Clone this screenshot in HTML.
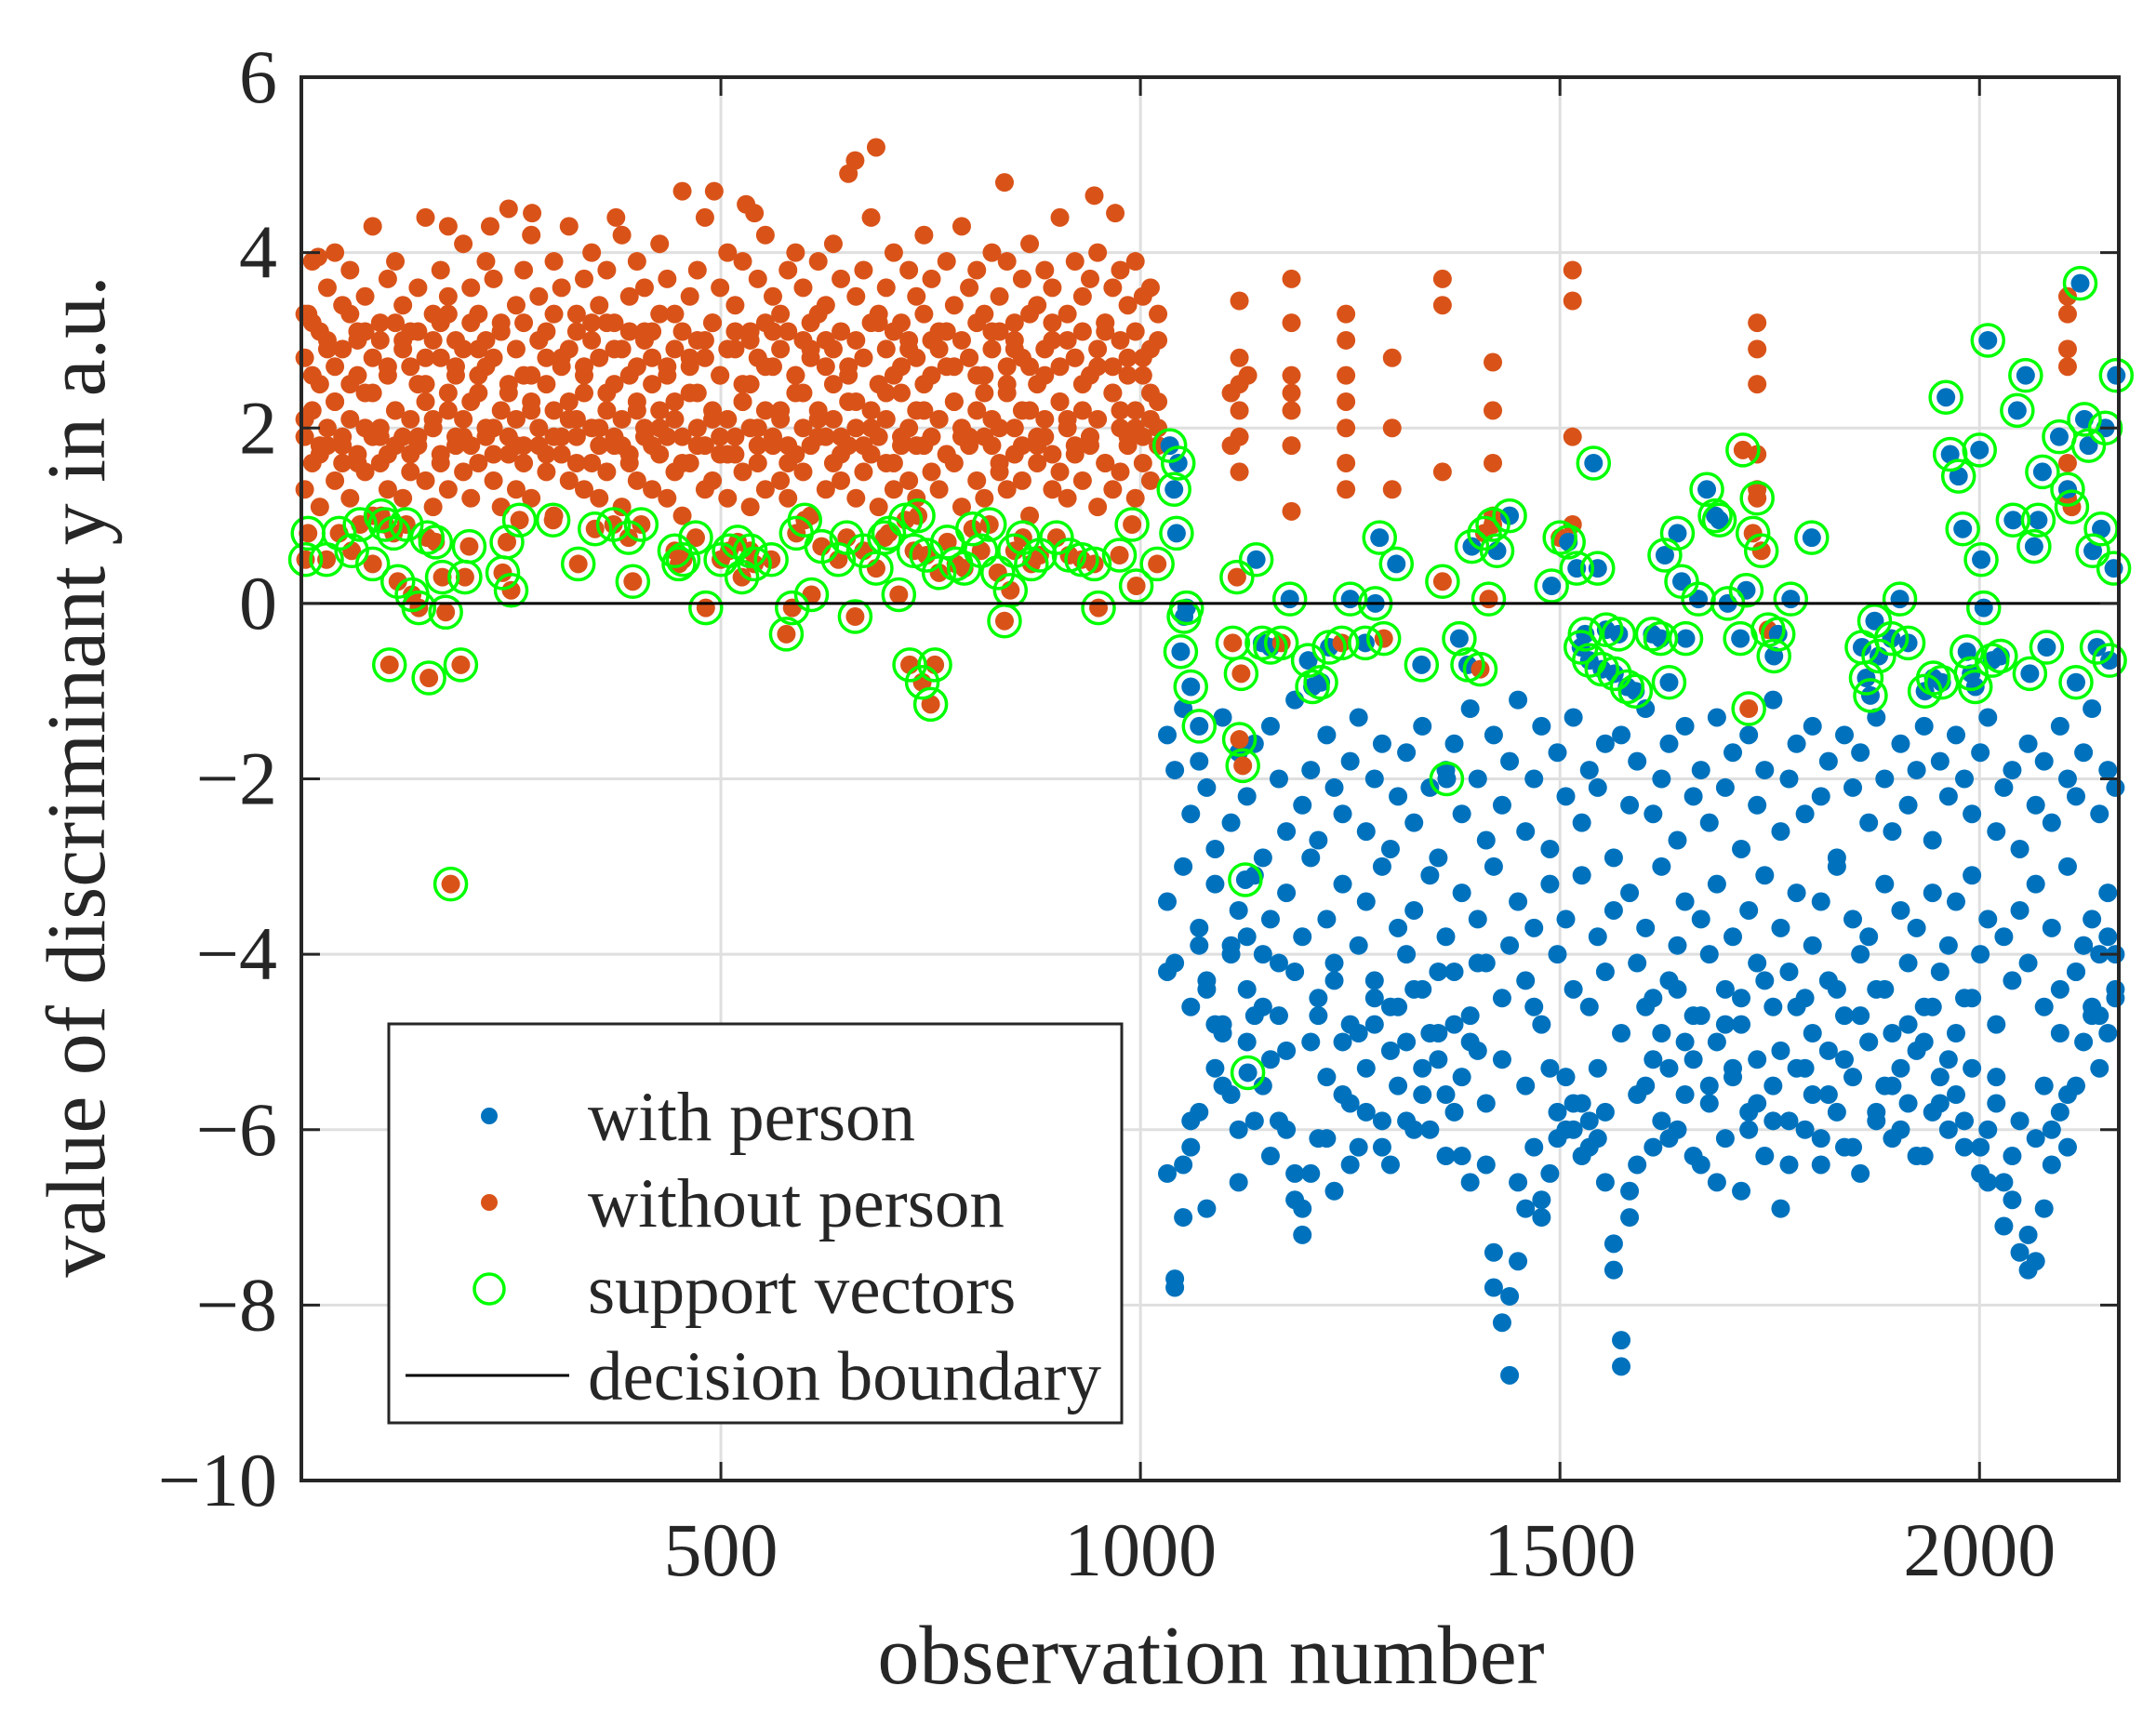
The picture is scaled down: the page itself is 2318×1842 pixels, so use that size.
<!DOCTYPE html>
<html><head><meta charset="utf-8"><style>
html,body{margin:0;padding:0;background:#fff;}
svg{display:block;}
text{font-family:"Liberation Serif",serif;fill:#262626;}
</style></head><body>
<svg id="chart" width="2318" height="1842" viewBox="0 0 2318 1842" xmlns="http://www.w3.org/2000/svg">
<rect width="2318" height="1842" fill="#fff"/>
<g id="grid"></g>
<g id="marks"></g>
<g id="axes"></g>
<text x="1302" y="1810" font-size="90" text-anchor="middle">observation number</text>
<text transform="translate(112,835) rotate(-90)" font-size="90" text-anchor="middle">value of discriminant y in a.u.</text>
<g>
<rect x="418" y="1101" width="788" height="429" fill="#fff" stroke="#262626" stroke-width="3"/>
<g><circle cx="526" cy="1200" r="9" fill="#0072BD"/><text x="632" y="1226" font-size="75">with person</text></g>
<g><circle cx="526" cy="1293" r="9" fill="#D95319"/><text x="632" y="1319" font-size="75">without person</text></g>
<g><circle cx="526" cy="1386" r="16" fill="none" stroke="#00FF00" stroke-width="3.5"/><text x="632" y="1412" font-size="75">support vectors</text></g>
<g><line x1="436" y1="1479" x2="612" y2="1479" stroke="#000" stroke-width="3"/><text x="632" y="1505" font-size="75">decision boundary</text></g>
</g>
</svg>
<script>
const xTicks=[500,1000,1500,2000];
const yTicks=[6,4,2,0,-2,-4,-6,-8,-10];
const oX=[4,13,22,31,40,49,58,67,76,85,94,103,112,121,130,139,148,157,166,175,184,193,202,211,220,229,238,247,256,265,274,283,292,301,310,319,328,337,346,355,364,373,382,391,400,409,418,427,436,445,454,463,472,481,490,499,508,517,526,535,544,553,562,571,580,589,598,607,616,625,634,643,652,661,670,679,688,697,706,715,724,733,742,751,760,769,778,787,796,805,814,823,832,841,850,859,868,877,886,895,904,913,922,931,940,949,958,967,976,985,994,1003,1012,1021];
const oYa=[2.1,2.6,1.8,2.9,2.3,1.6,2.5,3.1,2.0,2.4,1.9,2.7,2.2,3.0,1.7,2.5,2.8,2.1,3.2,2.4,2.6,1.9,2.3,2.9,2.7,2.0,3.1,2.4,1.8,2.6,2.2,3.0,2.5,1.9,2.8,2.3,2.1,2.7,3.2,2.0,2.4,2.9,1.8,2.6,2.2,3.1,2.5,2.0,2.7,2.3,1.9,2.8,2.4,3.0,2.1,2.6,1.7,2.9,2.3,2.5,2.0,2.7,3.1,2.2,1.8,2.6,2.4,2.9,2.1,3.0,2.5,1.9,2.7,2.3,2.8,2.0,3.2,2.4,2.6,1.8,2.9,2.2,2.5,3.0,2.1,2.7,2.3,1.9,2.8,2.6,2.4,3.1,2.0,2.5,2.9,2.2,2.7,1.8,2.6,3.0,2.3,2.1,2.8,2.5,1.9,2.7,3.1,2.4,2.2,2.6,2.0,2.8,2.4,2.3];
const oYb=[3.3,3.9,3.1,3.6,4.0,3.4,3.8,3.0,3.5,4.3,3.2,3.7,3.9,3.4,3.1,3.6,4.4,3.3,3.8,3.5,3.0,4.1,3.6,3.3,3.9,3.7,3.2,4.5,3.4,3.8,4.2,3.5,3.1,3.9,3.6,4.3,3.3,3.7,4.0,3.4,3.8,3.2,4.2,3.5,3.9,3.6,3.1,4.1,3.7,3.3,4.7,3.5,3.8,4.4,3.2,3.6,4.0,3.4,3.9,3.1,3.7,4.2,3.5,3.3,3.8,4.0,3.6,3.2,3.9,3.4,4.1,3.7,4.9,3.5,3.8,4.4,3.3,3.6,4.0,3.2,3.8,3.5,4.2,3.7,3.1,3.9,3.4,4.3,3.6,3.8,3.3,4.0,3.5,3.9,3.2,3.7,4.1,3.4,3.8,3.6,4.4,3.3,3.9,3.5,3.7,4.0,3.2,3.6,3.8,3.4,3.9,3.5,3.6,3.3];
const oYc=[1.3,1.6,1.1,1.8,1.4,1.9,1.2,1.7,1.5,1.0,1.6,1.3,1.8,1.2,1.5,1.9,1.4,1.1,1.7,1.3,1.8,1.5,1.2,1.6,1.9,1.4,1.1,1.7,1.3,1.6,1.2,1.8,1.5,1.0,1.7,1.4,1.9,1.3,1.6,1.2,1.5,1.8,1.1,1.6,1.4,1.9,1.3,1.7,1.2,1.5,1.0,1.6,1.8,1.3,1.4,1.7,1.2,1.9,1.5,1.1,1.6,1.3,1.8,1.4,1.2,1.7,1.5,1.0,1.9,1.3,1.6,1.4,1.8,1.2,1.5,1.7,1.1,1.6,1.3,1.9,1.4,1.2,1.8,1.5,1.3,1.7,1.6,1.1,1.9,1.4,1.2,1.8,1.5,1.3,1.7,1.4,1.0,1.6,1.9,1.3,1.5,1.2,1.7,1.4,1.8,1.1,1.6,1.3,1.5,1.9,1.2,1.6,1.4,1.8];
const oYd=[2.8,3.2,2.5,3.0,2.7,2.9,3.3,2.6,3.1,2.8,3.0,2.6,3.2,2.9,2.7,3.1,2.5,3.0,2.8,3.3,2.7,2.9,3.2,2.6,3.0,2.8,3.1,2.5,2.9,3.2,2.6,3.0,2.8,3.3,2.7,2.9,3.1,2.6,3.0,2.8,3.2,2.5,2.9,3.1,2.7,3.0,2.8,3.3,2.6,2.9,3.1,2.7,3.0,2.8,3.2,2.6,2.9,3.1,2.5,3.0,2.8,3.2,2.7,2.9,3.1,2.6,3.0,2.8,3.3,2.7,2.9,3.1,2.6,3.0,2.8,3.2,2.5,2.9,3.1,2.7,3.0,2.8,3.3,2.6,2.9,3.1,2.7,3.0,2.8,3.2,2.6,2.9,3.1,2.7,3.0,2.8,3.3,2.5,2.9,3.2,2.7,3.0,2.8,3.1,2.6,2.9,3.2,2.7,3.0,2.8,3.1,2.6,2.9,3.0];
const oYe=[1.9,2.2,1.7,2.0,2.3,1.8,2.1,1.6,2.4,1.9,2.0,1.7,2.2,1.9,2.1,1.8,2.3,2.0,1.6,2.2,1.9,2.1,1.8,2.4,2.0,1.7,2.2,1.9,2.1,1.8,2.3,2.0,1.7,2.2,1.9,2.1,1.6,2.4,2.0,1.8,2.2,1.9,2.1,1.7,2.3,2.0,1.8,2.2,1.9,2.1,1.6,2.4,2.0,1.8,2.2,1.9,2.1,1.7,2.3,2.0,1.8,2.2,1.9,2.1,1.6,2.4,2.0,1.8,2.2,1.9,2.1,1.7,2.3,2.0,1.8,2.2,1.9,2.1,1.6,2.4,2.0,1.8,2.2,1.9,2.1,1.7,2.3,2.0,1.8,2.2,1.9,2.1,1.6,2.4,2.0,1.8,2.2,1.9,2.1,1.7,2.3,2.0,1.8,2.2,1.9,2.1,1.6,2.4,2.0,1.8,2.2,1.9,2.1,2.0];
const oX2=[660,685,492,530,540,838,945,970,275,225,375,175,8,20,1108,1108,1118,1118,1118,1118,1118,1118,1128,1180,1180,1180,1180,1180,1180,1180,1245,1245,1245,1245,1245,1245,1245,1300,1300,1300,1360,1360,1360,1420,1420,1420,1420,1515,1515,1515,1515,1735,1735,1735,1735,1735,2105,2105,2105,2105,2105,2105,2105];
const oY2=[5.05,5.2,4.7,4.55,4.45,4.8,4.65,4.45,4.45,4.3,4.4,4.3,3.3,3.95,2.4,1.8,3.45,2.8,2.5,2.2,1.9,1.5,2.6,3.7,3.2,2.6,2.4,2.2,1.8,1.05,3.3,3.0,2.6,2.3,2.0,1.6,1.3,2.8,2.0,1.3,3.7,3.4,1.5,2.75,2.2,1.6,1.0,3.8,3.45,1.9,0.9,3.2,2.9,2.5,1.7,1.3,3.5,3.3,2.9,2.7,1.6,1.3,1.2];
const bX=[1032,1041,1051,1060,1070,1079,1089,1098,1108,1117,1127,1136,1146,1155,1165,1174,1184,1193,1203,1212,1222,1231,1241,1250,1260,1269,1279,1288,1298,1307,1317,1326,1336,1345,1355,1364,1374,1383,1393,1402,1412,1421,1431,1440,1450,1459,1469,1478,1488,1497,1507,1516,1526,1535,1545,1554,1564,1573,1583,1592,1602,1611,1621,1630,1640,1649,1659,1668,1678,1687,1697,1706,1716,1725,1735,1744,1754,1763,1773,1782,1792,1801,1811,1820,1830,1839,1849,1858,1868,1877,1887,1896,1906,1915,1925,1934,1944,1953,1963,1972,1982,1991,2001,2010,2020,2029,2039,2048,2058,2067,2077,2086,2096,2105,2115,2124,2134,2143,2153,2162];
const bYa=[-1.5,-1.9,-1.2,-2.4,-1.8,-2.1,-2.8,-1.3,-2.5,-1.7,-2.2,-1.6,-2.9,-1.4,-2.0,-2.6,-1.1,-2.3,-1.9,-2.7,-1.5,-2.1,-2.4,-1.8,-1.3,-2.6,-2.0,-1.6,-2.8,-2.2,-1.7,-2.5,-1.4,-2.1,-2.9,-1.9,-1.6,-2.4,-1.2,-2.0,-2.7,-1.5,-2.3,-1.8,-1.1,-2.6,-2.0,-1.4,-2.8,-1.7,-2.2,-1.3,-2.5,-1.9,-2.1,-1.6,-2.9,-1.5,-2.3,-1.8,-1.2,-2.4,-2.0,-1.6,-2.7,-1.4,-2.2,-1.9,-2.5,-1.3,-2.1,-1.7,-2.8,-1.5,-2.3,-1.9,-1.1,-2.6,-2.0,-1.6,-2.4,-1.4,-2.2,-1.8,-2.9,-1.5,-2.1,-1.7,-2.5,-1.3,-2.0,-2.6,-1.6,-2.3,-1.9,-1.4,-2.7,-1.8,-2.2,-1.5,-2.0,-2.4,-1.7,-1.3,-2.6,-2.1,-1.9,-2.8,-1.6,-2.3,-1.8,-2.5,-1.4,-2.0,-2.2,-1.7,-1.2,-2.4,-1.9,-2.1];
const bYb=[-3.4,-4.1,-3.0,-4.6,-3.7,-4.3,-3.2,-4.8,-3.9,-3.5,-4.4,-3.1,-4.0,-3.6,-4.7,-3.3,-4.2,-3.8,-2.9,-4.5,-3.6,-4.1,-3.2,-4.8,-3.9,-3.4,-4.3,-3.0,-4.6,-3.7,-4.0,-3.5,-4.4,-3.1,-4.9,-3.8,-4.2,-3.3,-4.7,-3.6,-4.1,-3.0,-4.5,-3.9,-3.4,-4.3,-3.7,-4.8,-3.2,-4.0,-3.6,-4.4,-3.1,-4.6,-3.8,-4.2,-3.5,-4.9,-3.3,-4.1,-3.7,-4.5,-3.0,-4.3,-3.9,-3.4,-4.7,-3.6,-4.0,-3.2,-4.4,-3.8,-4.8,-3.5,-4.1,-3.1,-4.6,-3.7,-4.2,-3.3,-4.5,-3.9,-3.4,-4.3,-3.0,-4.7,-3.6,-4.0,-3.8,-4.4,-3.2,-4.9,-3.5,-4.1,-3.7,-4.6,-3.3,-4.2,-3.9,-3.4,-4.5,-3.1,-4.0,-3.6,-4.8,-3.8,-4.3,-3.5,-4.1,-3.2,-4.6,-3.7,-4.4,-3.0,-4.2,-3.9,-3.6,-4.7,-3.3,-4.0];
const bYc=[-6.5,-7.7,-7.0,-6.2,-5.8,-6.9,-5.3,-4.9,-5.6,-6.0,-5.0,-4.7,-5.5,-6.3,-5.9,-5.1,-6.8,-7.2,-6.5,-6.1,-5.4,-6.7,-5.0,-5.7,-6.2,-5.3,-4.8,-5.9,-6.4,-5.5,-5.0,-6.0,-5.6,-4.9,-5.2,-6.3,-5.8,-5.4,-6.6,-5.1,-5.7,-7.8,-8.2,-8.8,-7.5,-6.9,-6.2,-7.0,-6.5,-5.8,-6.0,-5.7,-6.3,-5.9,-6.1,-6.6,-7.3,-8.7,-7.0,-6.4,-5.5,-6.2,-5.9,-5.3,-6.0,-5.6,-5.2,-6.4,-5.7,-5.0,-6.1,-5.4,-6.7,-5.8,-5.2,-6.3,-5.5,-6.9,-5.9,-5.3,-6.0,-5.6,-6.4,-5.1,-5.8,-6.2,-5.4,-6.5,-5.0,-5.9,-5.5,-6.1,-5.3,-5.7,-6.3,-5.0,-5.8,-5.4,-6.0,-5.6,-6.2,-5.3,-6.5,-6.0,-5.7,-6.6,-6.3,-7.4,-7.2,-7.5,-6.9,-6.4,-5.8,-6.2,-5.5,-5.0,-4.7,-5.3,-4.9,-4.5];
const bYd=[-4.2,-7.8,-6.4,-5.9,-3.9,-4.4,-4.8,-5.5,-4.0,-6.6,-3.8,-5.9,-4.6,-5.2,-4.1,-6.0,-6.5,-6.9,-5.0,-4.7,-6.1,-4.3,-5.6,-6.4,-4.9,-5.8,-4.5,-6.2,-5.1,-4.6,-5.9,-4.4,-5.3,-6.0,-4.2,-5.6,-4.8,-6.3,-5.0,-4.1,-6.4,-7.4,-5.2,-7.9,-6.6,-5.5,-4.6,-6.8,-5.3,-6.1,-5.4,-6.0,-5.7,-6.2,-5.3,-5.8,-7.6,-8.4,-6.7,-5.6,-4.6,-5.2,-4.9,-6.1,-4.4,-5.0,-6.3,-4.7,-5.5,-6.6,-4.8,-5.3,-4.5,-6.0,-5.7,-4.3,-5.9,-5.1,-6.4,-4.6,-5.3,-4.9,-6.1,-5.6,-4.4,-5.2,-6.2,-4.7,-5.0,-5.8,-4.4,-5.5,-6.0,-4.8,-5.1,-6.3,-4.6,-5.7,-5.2,-4.9,-5.9,-4.5,-6.2,-6.6,-5.4,-7.1,-6.8,-5.9,-7.6,-6.1,-5.5,-6.0,-4.9,-5.6,-4.2,-3.9,-4.6,-4.0,-3.8,-4.4];
const svX=[5,8,30,45,60,70,85,95,100,105,110,115,125,132,140,150,152,160,168,172,178,190,195,200,240,245,250,260,300,330,350,372,390,395,405,445,450,455,470,482,500,510,520,525,535,540,560,578,585,590,600,608,620,640,650,660,670,685,695,700,712,720,725,730,735,740,745,750,755,760,770,780,790,800,810,820,830,838,845,850,860,870,880,900,915,930,945,950,975,990,995,1020,
1035,1040,1043,1045,1048,1052,1055,1060,1070,1110,1115,1118,1120,1122,1125,1128,1138,1145,1155,1168,1178,1200,1205,1215,1225,1240,1250,1268,1280,1285,1290,1305,1335,1360,1365,1380,1390,1395,1405,1410,1415,1420,1425,1440,1490,1500,1510,1520,1525,1530,1535,1540,1545,1550,1555,1565,1570,1580,1590,1610,1620,1625,1630,1640,1645,1650,1665,1675,1685,1690,1700,1715,1718,1722,1725,1730,1735,1740,1748,1755,1760,1775,1800,1860,1865,1870,1875,1880,1895,1905,1915,1935,1945,1955,1960,1965,1975,1980,1985,1990,1995,2000,2002,2005,2010,2015,2025,2040,2045,2055,2060,2065,2070,2075,2080,2095,2105,2110,2115,2120,2125,2130,2135,2140,2145,2150,2155,2160,2163];
const svY=[0.5,0.8,0.5,0.8,0.6,0.9,0.45,1.0,0.9,-0.7,0.8,0.25,0.9,0.1,-0.05,0.75,-0.85,0.7,0.3,-0.1,-3.2,-0.7,0.3,0.65,0.35,0.7,0.15,0.95,0.95,0.45,0.85,0.9,0.75,0.25,0.9,0.6,0.45,0.5,0.75,-0.05,0.5,0.6,0.7,0.3,0.6,0.45,0.5,-0.35,-0.05,0.8,0.95,0.1,0.65,0.5,0.75,-0.15,0.6,0.4,0.75,0.8,0.1,0.95,-0.7,0.6,1.0,-0.9,0.55,-1.15,-0.7,0.35,0.7,0.45,0.4,0.85,0.6,0.9,0.35,-0.2,0.15,0.6,0.75,0.45,0.55,0.75,0.55,0.5,0.45,-0.05,0.55,0.9,0.2,0.45,
1.8,1.3,0.8,1.6,-0.55,-0.15,-0.05,-0.95,-1.4,-0.45,0.3,-1.55,-0.8,-1.85,-3.15,-5.35,0.5,-0.45,-0.5,-0.45,0.05,-0.65,-0.95,-0.9,-0.5,-0.45,0.05,-0.45,0.0,0.75,-0.4,0.45,-0.7,0.25,-2.0,-0.4,-0.7,0.65,-0.75,0.8,0.05,0.9,0.6,1.0,0.2,0.75,0.7,0.4,-0.5,-0.35,-0.65,1.6,0.4,-0.75,-0.3,-0.8,-0.35,-0.95,-1.0,-0.35,-0.4,0.55,-0.9,0.8,0.25,-0.4,0.05,1.3,1.0,0.95,0.0,-0.4,1.75,0.15,-1.2,0.8,1.2,0.6,-0.3,-0.6,-0.35,0.05,0.75,-0.5,-0.85,-1.05,-0.2,-0.6,-0.4,0.05,-0.45,-1.0,-0.85,-0.9,2.35,1.7,1.45,0.85,-0.55,-0.8,-0.95,1.75,0.5,-0.05,3.0,-0.65,-0.6,0.95,2.2,2.6,-0.8,0.65,0.95,1.5,-0.5,1.9,1.3,1.1,-0.9,3.65,2.1,1.8,0.6,-0.5,0.85,2.0,-0.65,0.4,2.6];
const svCls="oooooooooooooooooooooooooooooooooooooooooooooooooooooooooooooooooooooooooooooooooooooooooooo"+"bbbbbbbbbooooobbbbbobbbbbobbbbobbobbbboooobbbobbbbbbbbbbbbbbbbbbbbbbbbbbobooooobbbbbbbbbbbbbbbbbbbbbbbbbbbbbbbbbbbbbbobbbbbbbbbbbb";

const NS="http://www.w3.org/2000/svg";
const L=324,R=2278,T=83,B=1592,XMIN=0,XMAX=2166,YMIN=-10,YMAX=6;
function sx(v){return L+(v-XMIN)/(XMAX-XMIN)*(R-L);}
function sy(v){return B-(v-YMIN)/(YMAX-YMIN)*(B-T);}
function mk(tag,attrs,parent){const e=document.createElementNS(NS,tag);for(const k in attrs)e.setAttribute(k,attrs[k]);parent.appendChild(e);return e;}
const grid=document.getElementById('grid'),marks=document.getElementById('marks'),axes=document.getElementById('axes');
xTicks.forEach(t=>{
  const g=mk('line',{x1:sx(t),x2:sx(t),y1:T,y2:B,stroke:'#dfdfdf','stroke-width':3},grid);
  
  
  const lb=mk('text',{x:sx(t),y:1694,'font-size':82,'text-anchor':'middle'},axes);
  lb.textContent=String(t);
  
  
  mk('line',{x1:sx(t),x2:sx(t),y1:B,y2:B-20,stroke:'#262626','stroke-width':3},axes);
  mk('line',{x1:sx(t),x2:sx(t),y1:T,y2:T+20,stroke:'#262626','stroke-width':3},axes);
});
yTicks.forEach(t=>{
  if(t!==YMIN&&t!==YMAX){
    const g=mk('line',{x1:L,x2:R,y1:sy(t),y2:sy(t),stroke:'#dfdfdf','stroke-width':3},grid);
    
    
  }
  const lb=mk('text',{x:298,y:sy(t)+27,'font-size':82,'text-anchor':'end'},axes);
  lb.textContent=(t<0?'\u2212':'')+Math.abs(t);
  
  
  mk('line',{x1:L,x2:L+20,y1:sy(t),y2:sy(t),stroke:'#262626','stroke-width':3},axes);
  mk('line',{x1:R,x2:R-20,y1:sy(t),y2:sy(t),stroke:'#262626','stroke-width':3},axes);
});
const frame=mk('rect',{x:L,y:T,width:R-L,height:B-T,fill:'none',stroke:'#262626','stroke-width':4},axes);


function dot(x,y,c,name){
  if(x===undefined||y===undefined)return;
  const d=mk('circle',{cx:sx(x),cy:sy(y),r:10,fill:c},marks);
  
  
}
[oYa,oYb,oYc,oYd,oYe].forEach(arr=>{for(let i=0;i<oX.length;i++)dot(oX[i],arr[i],'#D95319','point-without-person');});
for(let i=0;i<oX2.length;i++)dot(oX2[i],oY2[i],'#D95319','point-without-person');
[bYa,bYb,bYc,bYd].forEach(arr=>{for(let i=0;i<bX.length;i++)dot(bX[i],arr[i],'#0072BD','point-with-person');});
for(let i=0;i<svX.length;i++){
  dot(svX[i],svY[i],svCls[i]==='b'?'#0072BD':'#D95319',svCls[i]==='b'?'point-with-person':'point-without-person');
}
for(let i=0;i<svX.length;i++){
  const c=mk('circle',{cx:sx(svX[i]),cy:sy(svY[i]),r:17,fill:'none',stroke:'#00FF00','stroke-width':3.5},marks);
  
  
}
const db=mk('line',{x1:L,x2:R,y1:sy(0),y2:sy(0),stroke:'#000','stroke-width':3},marks);


</script>
</body></html>
